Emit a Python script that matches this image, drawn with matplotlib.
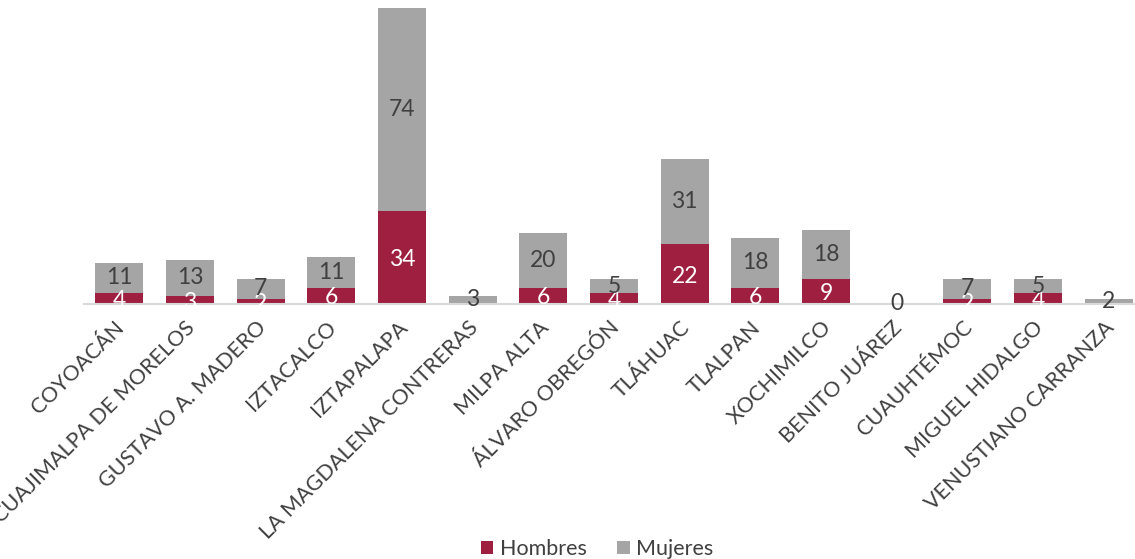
import matplotlib
matplotlib.use("Agg")
import matplotlib.pyplot as plt
import matplotlib.transforms as mtransforms
import numpy as np

plt.rcParams['font.family'] = ['Lato', 'DejaVu Sans']

alcaldias = ['COYOACÁN', 'CUAJIMALPA DE MORELOS', 'GUSTAVO A. MADERO', 'IZTACALCO',
             'IZTAPALAPA', 'LA MAGDALENA CONTRERAS', 'MILPA ALTA', 'ÁLVARO OBREGÓN',
             'TLÁHUAC', 'TLALPAN', 'XOCHIMILCO', 'BENITO JUÁREZ', 'CUAUHTÉMOC',
             'MIGUEL HIDALGO', 'VENUSTIANO CARRANZA']
hombres = [4, 3, 2, 6, 34, 0, 6, 4, 22, 6, 9, 0, 2, 4, 0]
mujeres = [11, 13, 7, 11, 74, 3, 20, 5, 31, 18, 18, 0, 7, 5, 2]

c_h = '#9E1F3F'
c_m = '#A5A5A5'
txt = '#404040'

fig = plt.figure(figsize=(11.35, 5.59), dpi=100)
ax = fig.add_axes([84 / 1135, 255 / 559, 1060 / 1135, 300 / 559])

x = np.arange(len(alcaldias))
w = 0.68
ax.bar(x, hombres, w, color=c_h, label='Hombres', zorder=2)
ax.bar(x, mujeres, w, bottom=hombres, color=c_m, label='Mujeres', zorder=2)

# valores dentro de cada segmento
for xi, h, m in zip(x, hombres, mujeres):
    if h > 0:
        ax.text(xi, h / 2 - 0.8, str(h), ha='center', va='center', color='white',
                fontsize=16.5, zorder=3)
    ax.text(xi, h + m / 2, str(m), ha='center', va='center', color=txt,
            fontsize=16.5, zorder=3)

ax.set_xlim(-0.5, len(alcaldias) - 0.5)
ax.set_ylim(0, 109.5)
ax.set_yticks([])
for s in ['top', 'right', 'left']:
    ax.spines[s].set_visible(False)
ax.spines['bottom'].set_color('#D9D9D9')
ax.spines['bottom'].set_linewidth(1.5)
ax.set_xticks(x)
ax.set_xticklabels(alcaldias, rotation=45, ha='right', va='top',
                   rotation_mode='anchor', fontsize=15.5, color=txt)
ax.tick_params(axis='x', length=0, pad=6)

# correr las etiquetas un poco hacia abajo a la izquierda
shift = mtransforms.ScaledTranslation(-5 / 100, -5 / 100, fig.dpi_scale_trans)
for lbl in ax.get_xticklabels():
    lbl.set_transform(lbl.get_transform() + shift)

fig.legend(loc='lower center', bbox_to_anchor=(0.526, -0.035), ncol=2, frameon=False,
           fontsize=15.5, handlelength=0.6, handleheight=0.6, handletextpad=0.3,
           columnspacing=1.4, labelcolor=txt)

fig.savefig('out.png', dpi=100)
